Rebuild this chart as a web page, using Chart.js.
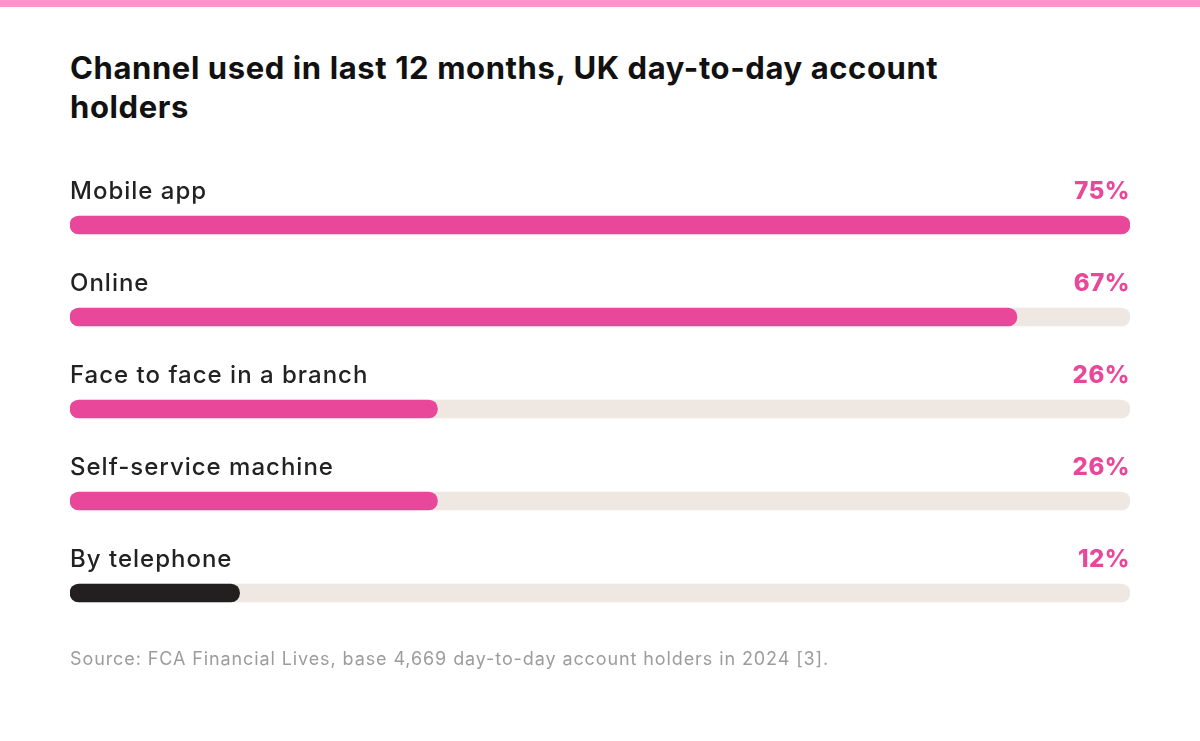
<!DOCTYPE html>
<html><head><meta charset="utf-8">
<script src="https://cdn.jsdelivr.net/npm/chart.js@4"></script>
<style>
html,body{margin:0;padding:0;background:#fff;width:1200px;height:741px;overflow:hidden;font-family:Inter,"Open Sans",sans-serif}
#stripe{position:absolute;left:0;top:0;width:1200px;height:7px;background:#FF92C8}
#title{position:absolute;left:70px;top:48px;width:930px;font-weight:700;font-size:31px;line-height:39px;color:#111;letter-spacing:0.6px}
#src{position:absolute;left:70px;top:648px;font-size:18px;color:#9c9c9c;letter-spacing:0.9px}
#wrap{position:absolute;left:0;top:0;width:1200px;height:741px}
</style></head><body>
<div id="stripe"></div>
<div id="title">Channel used in last 12 months, UK day-to-day account holders</div>
<div id="wrap"><canvas id="c"></canvas></div>
<div id="src">Source: FCA Financial Lives, base 4,669 day-to-day account holders in 2024 [3].</div>
<script>
const categories=["Mobile app","Online","Face to face in a branch","Self-service machine","By telephone"];
const values=[75,67,26,26,12];
const barColors=["#E8479A","#E8479A","#E8479A","#E8479A","#231F20"];
const maxValue=75;
const labelPlugin={id:'labels',afterDatasetsDraw(chart){
  const ctx=chart.ctx,y=chart.scales.y,a=chart.chartArea;
  ctx.save();ctx.textBaseline='middle';
  categories.forEach((c,i)=>{
    const cy=y.getPixelForValue(i)-33;
    ctx.letterSpacing='1px';
    ctx.font='500 24px Inter, sans-serif';ctx.fillStyle='#222';ctx.textAlign='left';
    ctx.fillText(c,a.left,cy);
    ctx.letterSpacing='0.5px';
    ctx.font='800 24px Inter, sans-serif';ctx.fillStyle='#E8479A';ctx.textAlign='right';
    ctx.fillText(values[i]+'%',a.right,cy);
  });
  ctx.restore();}};
new Chart(document.getElementById('c'),{type:'bar',
 data:{labels:categories,datasets:[
  {data:values,backgroundColor:barColors,barThickness:18,borderRadius:9,borderSkipped:false,grouped:false,order:0},
  {data:categories.map(()=>maxValue),backgroundColor:'#EFE8E2',barThickness:18,borderRadius:9,borderSkipped:false,grouped:false,order:1}
 ]},
 options:{indexAxis:'y',responsive:true,maintainAspectRatio:false,animation:false,
  layout:{padding:{left:70,right:70,top:179,bottom:102}},
  plugins:{legend:{display:false},tooltip:{enabled:false}},
  scales:{x:{min:0,max:maxValue,display:false},y:{display:false}}},
 plugins:[labelPlugin]});
</script></body></html>
